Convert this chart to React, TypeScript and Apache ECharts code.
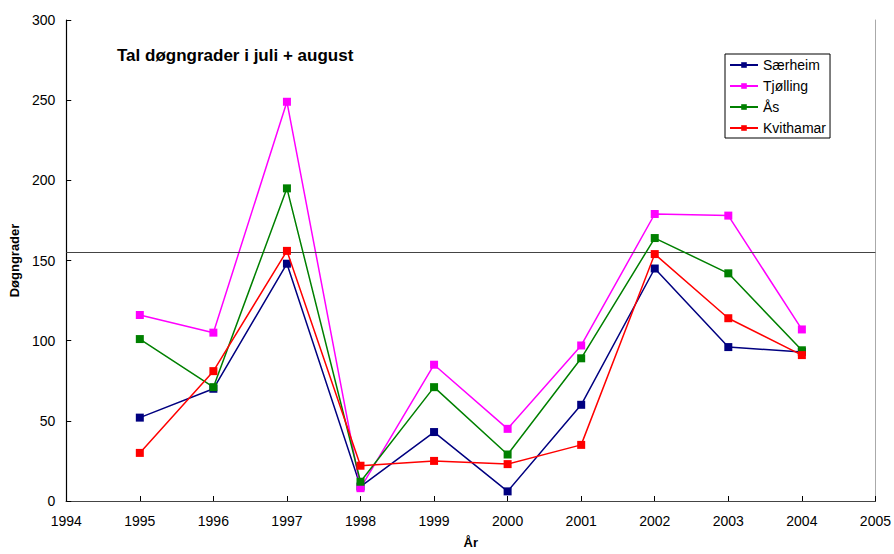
import React, { useEffect, useRef } from "react";
import * as echarts from "echarts";

const years = [1995, 1996, 1997, 1998, 1999, 2000, 2001, 2002, 2003, 2004];
const saerheim = [52, 70, 148, 9, 43, 6, 60, 145, 96, 93];
const tjolling = [116, 105, 249, 8, 85, 45, 97, 179, 178, 107];
const aas = [101, 71, 195, 12, 71, 29, 89, 164, 142, 94];
const kvithamar = [30, 81, 156, 22, 25, 23, 35, 154, 114, 91];
const seriesNames = ["Særheim", "Tjølling", "Ås", "Kvithamar"];
const seriesColors = ["#000080", "#FF00FF", "#008000", "#FF0000"];
const referenceValue = 155;
const titleText = "Tal døgngrader i juli + august";
const yName = "Døgngrader";
const xName = "År";

const FONT = "Liberation Sans, Arial, sans-serif";

export default function App() {
  const ref = useRef<HTMLDivElement>(null);
  useEffect(() => {
    document.body.style.margin = "0";
    if (!ref.current) return;
    const chart = echarts.init(ref.current, undefined, { renderer: "svg" });
    const allData = [saerheim, tjolling, aas, kvithamar];
    const series: any[] = allData.map((vals, i) => ({
      name: seriesNames[i],
      type: "line",
      data: years.map((y, j) => [y, vals[j]]),
      symbol: "rect",
      symbolSize: 8,
      itemStyle: { color: seriesColors[i] },
      lineStyle: { color: seriesColors[i], width: 1.5 },
      z: 3 + i,
    }));
    series[0].markLine = {
      silent: true,
      symbol: "none",
      label: { show: false },
      lineStyle: { color: "#444", width: 1.2, type: "solid" },
      data: [{ yAxis: referenceValue }],
    };
    chart.setOption({
      animation: false,
      textStyle: { fontFamily: FONT },
      grid: { left: 66, right: 14, top: 20, bottom: 49, containLabel: false },
      title: {
        text: titleText,
        left: 117,
        top: 47,
        padding: 0,
        textStyle: { fontFamily: FONT, fontSize: 17, fontWeight: "bold", color: "#000" },
      },
      legend: {
        orient: "vertical",
        left: 725,
        top: 54,
        data: seriesNames,
        borderColor: "#000",
        borderWidth: 1,
        padding: [4, 4, 3, 4],
        itemGap: 7,
        itemWidth: 28,
        itemHeight: 7,
        textStyle: { fontFamily: FONT, fontSize: 14, color: "#000" },
      },
      xAxis: [
        {
          type: "value",
          min: 1994,
          max: 2005,
          interval: 1,
          name: xName,
          nameLocation: "middle",
          nameGap: 35,
          nameTextStyle: { fontFamily: FONT, fontSize: 13, fontWeight: "bold", color: "#000" },
          axisLine: { lineStyle: { color: "#000", width: 1.2 } },
          axisTick: { inside: true, length: 5, lineStyle: { color: "#000" } },
          axisLabel: { color: "#000", fontSize: 14, fontFamily: FONT, margin: 13, formatter: (v: number) => String(v) },
          splitLine: { show: false },
        },
        {
          type: "value",
          position: "top",
          min: 1994,
          max: 2005,
          axisLine: { show: true, lineStyle: { color: "#444", width: 1.2 } },
          axisTick: { show: false },
          axisLabel: { show: false },
          splitLine: { show: false },
        },
      ],
      yAxis: [
        {
          type: "value",
          min: 0,
          max: 300,
          interval: 50,
          name: yName,
          nameLocation: "middle",
          nameGap: 43,
          nameRotate: 90,
          nameTextStyle: { fontFamily: FONT, fontSize: 13, fontWeight: "bold", color: "#000" },
          axisLine: { show: true, lineStyle: { color: "#000", width: 1.2 } },
          axisTick: { show: true, inside: true, length: 5, lineStyle: { color: "#000" } },
          axisLabel: { color: "#000", fontSize: 14, fontFamily: FONT, margin: 11 },
          splitLine: { show: false },
        },
        {
          type: "value",
          position: "right",
          min: 0,
          max: 300,
          axisLine: { show: true, lineStyle: { color: "#aaa", width: 1 } },
          axisTick: { show: false },
          axisLabel: { show: false },
          splitLine: { show: false },
        },
      ],
      series,
    });
    return () => chart.dispose();
  }, []);
  return <div ref={ref} style={{ width: 894, height: 554 }} />;
}
